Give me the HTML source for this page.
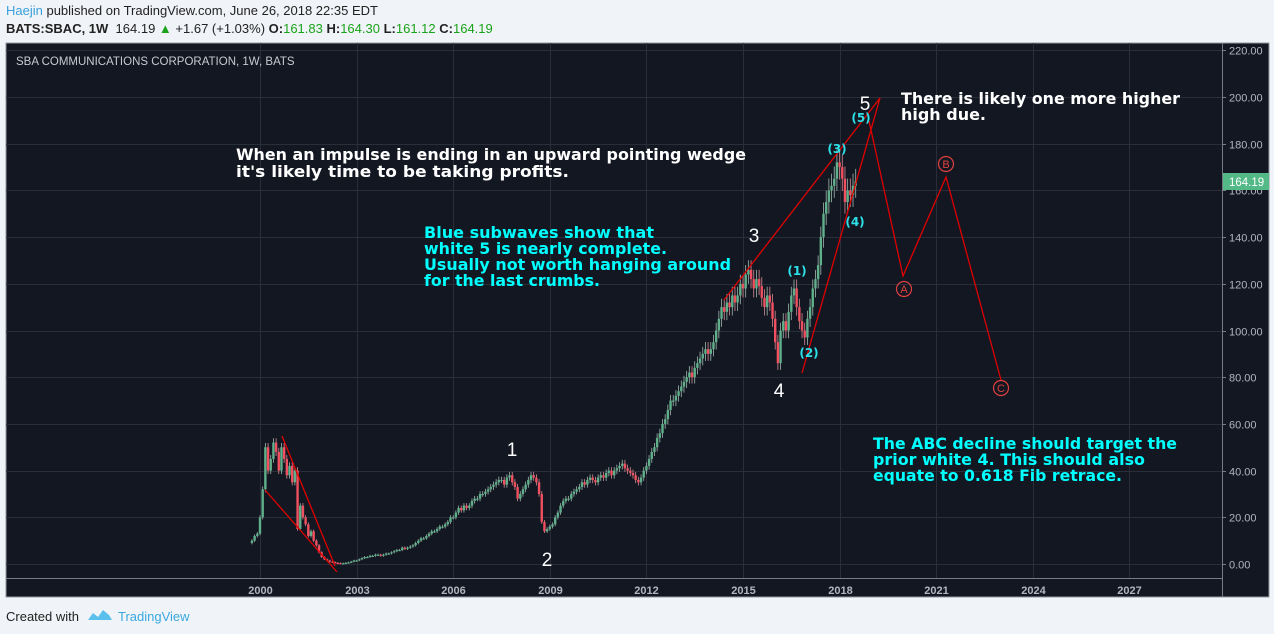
<!DOCTYPE html>
<html><head><meta charset="utf-8"><style>
html,body{margin:0;padding:0;background:#f0f3f7;width:1274px;height:634px;overflow:hidden;font-family:"Liberation Sans","DejaVu Sans",sans-serif}
.hdr{position:absolute;left:6px;font-size:13px;color:#222}
</style></head><body>
<div class="hdr" style="top:3px"><span style="color:#3aa0dc">Haejin</span> published on TradingView.com, June 26, 2018 22:35 EDT</div>
<div class="hdr" style="top:21px;font-size:13px"><b>BATS:SBAC, 1W</b>&nbsp; 164.19 <span style="color:#1aa31a">▲</span> +1.67 (+1.03%) <b>O:</b><span style="color:#1aa31a">161.83</span> <b>H:</b><span style="color:#1aa31a">164.30</span> <b>L:</b><span style="color:#1aa31a">161.12</span> <b>C:</b><span style="color:#1aa31a">164.19</span></div>
<svg id="chart" width="1274" height="634" style="position:absolute;left:0;top:0">
<rect x="6" y="43" width="1263" height="554" fill="#131722" stroke="#9598a1" stroke-width="1"/>
<line x1="1222.5" y1="43" x2="1222.5" y2="597" stroke="#787b86"/>
<line x1="6" y1="578.5" x2="1222" y2="578.5" stroke="#787b86"/>
<g id="grid"></g><g id="candles"></g><g id="axes"></g>
<text x="16" y="65" fill="#c8cad0" font-size="11.5">SBA COMMUNICATIONS CORPORATION, 1W, BATS</text>
<g fill="none" stroke="#e00000" stroke-width="1.3">
<line x1="265" y1="490" x2="337" y2="572"/>
<line x1="282" y1="436" x2="335" y2="566"/>
<line x1="724" y1="300" x2="880" y2="98"/>
<line x1="802" y1="373" x2="880" y2="98"/>
<polyline points="869,121 903,276 946,177 1001,380"/>
</g>
<g fill="none" stroke="#e04040" stroke-width="1.2">
<circle cx="904" cy="289" r="7.5"/>
<circle cx="946" cy="164" r="7.5"/>
<circle cx="1001" cy="388" r="7.5"/>
</g>
<g fill="#e04040" font-size="11" text-anchor="middle">
<text x="904" y="293">A</text>
<text x="946" y="168">B</text>
<text x="1001" y="392">C</text>
</g>
<g fill="#fff" font-size="19" text-anchor="middle">
<text x="512" y="456">1</text>
<text x="547" y="566">2</text>
<text x="754" y="242">3</text>
<text x="779" y="397">4</text>
<text x="865" y="110">5</text>
</g>
<g fill="#2ee0e8" font-size="12" font-weight="bold" text-anchor="middle" font-family="DejaVu Sans,sans-serif">
<text x="861" y="122">(5)</text>
<text x="837" y="153">(3)</text>
<text x="855" y="226">(4)</text>
<text x="797" y="275">(1)</text>
<text x="809" y="357">(2)</text>
</g>
<g fill="#ffffff" font-size="16" font-weight="bold" font-family="DejaVu Sans,sans-serif">
<text x="236" y="160" textLength="510" lengthAdjust="spacingAndGlyphs">When an impulse is ending in an upward pointing wedge</text>
<text x="236" y="177" textLength="333" lengthAdjust="spacingAndGlyphs">it's likely time to be taking profits.</text>
</g>
<g fill="#ffffff" font-size="16" font-weight="bold" font-family="DejaVu Sans,sans-serif">
<text x="901" y="104" textLength="279" lengthAdjust="spacingAndGlyphs">There is likely one more higher</text>
<text x="901" y="120" textLength="85" lengthAdjust="spacingAndGlyphs">high due.</text>
</g>
<g fill="#00ffff" font-size="16" font-weight="bold" font-family="DejaVu Sans,sans-serif">
<text x="424" y="238" textLength="230" lengthAdjust="spacingAndGlyphs">Blue subwaves show that</text>
<text x="424" y="254" textLength="243" lengthAdjust="spacingAndGlyphs">white 5 is nearly complete.</text>
<text x="424" y="270" textLength="307" lengthAdjust="spacingAndGlyphs">Usually not worth hanging around</text>
<text x="424" y="286" textLength="176" lengthAdjust="spacingAndGlyphs">for the last crumbs.</text>
</g>
<g fill="#00ffff" font-size="16" font-weight="bold" font-family="DejaVu Sans,sans-serif">
<text x="873" y="449" textLength="304" lengthAdjust="spacingAndGlyphs">The ABC decline should target the</text>
<text x="873" y="465" textLength="272" lengthAdjust="spacingAndGlyphs">prior white 4. This should also</text>
<text x="873" y="481" textLength="249" lengthAdjust="spacingAndGlyphs">equate to 0.618 Fib retrace.</text>
</g>
<rect x="1223" y="173" width="46" height="17" fill="#53b987"/>
<text x="1229" y="186" fill="#fff" font-size="11.5">164.19</text>
<text x="6" y="621" fill="#222" font-size="13">Created with</text>
<path d="M88 620 l5 -7 l5 4 l5 -7 l6 5 l3 5 z" fill="#5bc0eb"/>
<text x="118" y="621" fill="#3aa9e0" font-size="13">TradingView</text>
</svg>
<script>
const priceTicks=[0,20,40,60,80,100,120,140,160,180,200,220];
const yearTicks=[2000,2003,2006,2009,2012,2015,2018,2021,2024,2027];
const startYear=1999.75;
const closes=[10,12,13,
20,32,50,40,45,52,48,40,50,45,38,42,
35,40,15,25,20,17,12,14,10,8,5,3,
2,1.5,1,0.8,0.5,0.4,0.3,0.3,0.5,0.7,1,1.5,
1.5,2,2.5,3,3,3.5,3.5,4,4,3.5,4,4.5,
4.5,5,5.5,6,6,7,6.5,7,7.5,8,9,10,
11,11,12,13,14,14,15,16,16,17,18,20,
20,22,24,23,25,24,25,27,28,28,30,30,
31,32,33,34,35,36,36,34,37,38,35,33,
28,30,32,34,36,38,37,35,30,18,14,15,
16,17,20,22,25,27,28,28,30,31,32,33,
35,34,36,37,36,35,37,38,37,39,40,38,
40,41,42,43,41,40,39,38,36,35,37,40,
42,45,48,50,54,56,60,62,66,70,70,72,
74,76,78,80,82,80,84,86,88,90,92,90,
92,95,100,105,110,108,112,110,115,112,115,120,
118,124,126,122,118,122,119,114,110,115,112,105,
95,86,100,104,100,108,115,118,110,104,100,97,
105,110,118,122,128,140,150,155,160,162,165,172,
170,165,155,160,158,162,164];
const NS='http://www.w3.org/2000/svg';
const yS=p=>564-p*2.335;
const xS=t=>260+(t-2000)*32.2;
function mk(tag,attrs,parent){const e=document.createElementNS(NS,tag);for(const k in attrs)e.setAttribute(k,attrs[k]);parent.appendChild(e);return e;}
const grid=document.getElementById('grid'),axes=document.getElementById('axes'),cg=document.getElementById('candles');
priceTicks.forEach(p=>{
 const y=Math.round(yS(p))+0.5;
 const l=mk('line',{x1:6,x2:1222,y1:y,y2:y,stroke:'#2a2e39'},grid);
 
 
 const t=mk('text',{x:1229,y:y+4,fill:'#b2b5be','font-size':11},axes);
 t.textContent=p.toFixed(2);
 
 
 const tk=mk('line',{x1:1222,x2:1226,y1:y,y2:y,stroke:'#787b86'},axes);
 
 
});
yearTicks.forEach(yr=>{
 const x=Math.round(xS(yr))+0.5;
 const l=mk('line',{x1:x,x2:x,y1:43,y2:578,stroke:'#2a2e39'},grid);
 
 
 const t=mk('text',{x:x,y:594,fill:'#b2b5be','font-size':11,'font-weight':'bold','text-anchor':'middle'},axes);
 t.textContent=yr;
 
 
});
closes.forEach((c,i)=>{
 const o=i?closes[i-1]:c*0.9;
 const up=c>=o;
 const hi=Math.max(o,c)*1.03+0.3, lo=Math.min(o,c)*0.97-0.3;
 const x=xS(startYear+i/12);
 const col=up?'#5fb08a':'#f0505f';
 const g=mk('g',{},cg);
 
 
 mk('line',{x1:x,x2:x,y1:yS(hi),y2:yS(Math.max(lo,0)),stroke:up?'#9fb8ad':'#d88a92','stroke-width':0.8},g);
 const top=yS(Math.max(o,c)),bot=yS(Math.min(o,c));
 mk('rect',{x:x-1.2,y:top,width:2.4,height:Math.max(bot-top,1.2),fill:col},g);
});
</script>
</body></html>
